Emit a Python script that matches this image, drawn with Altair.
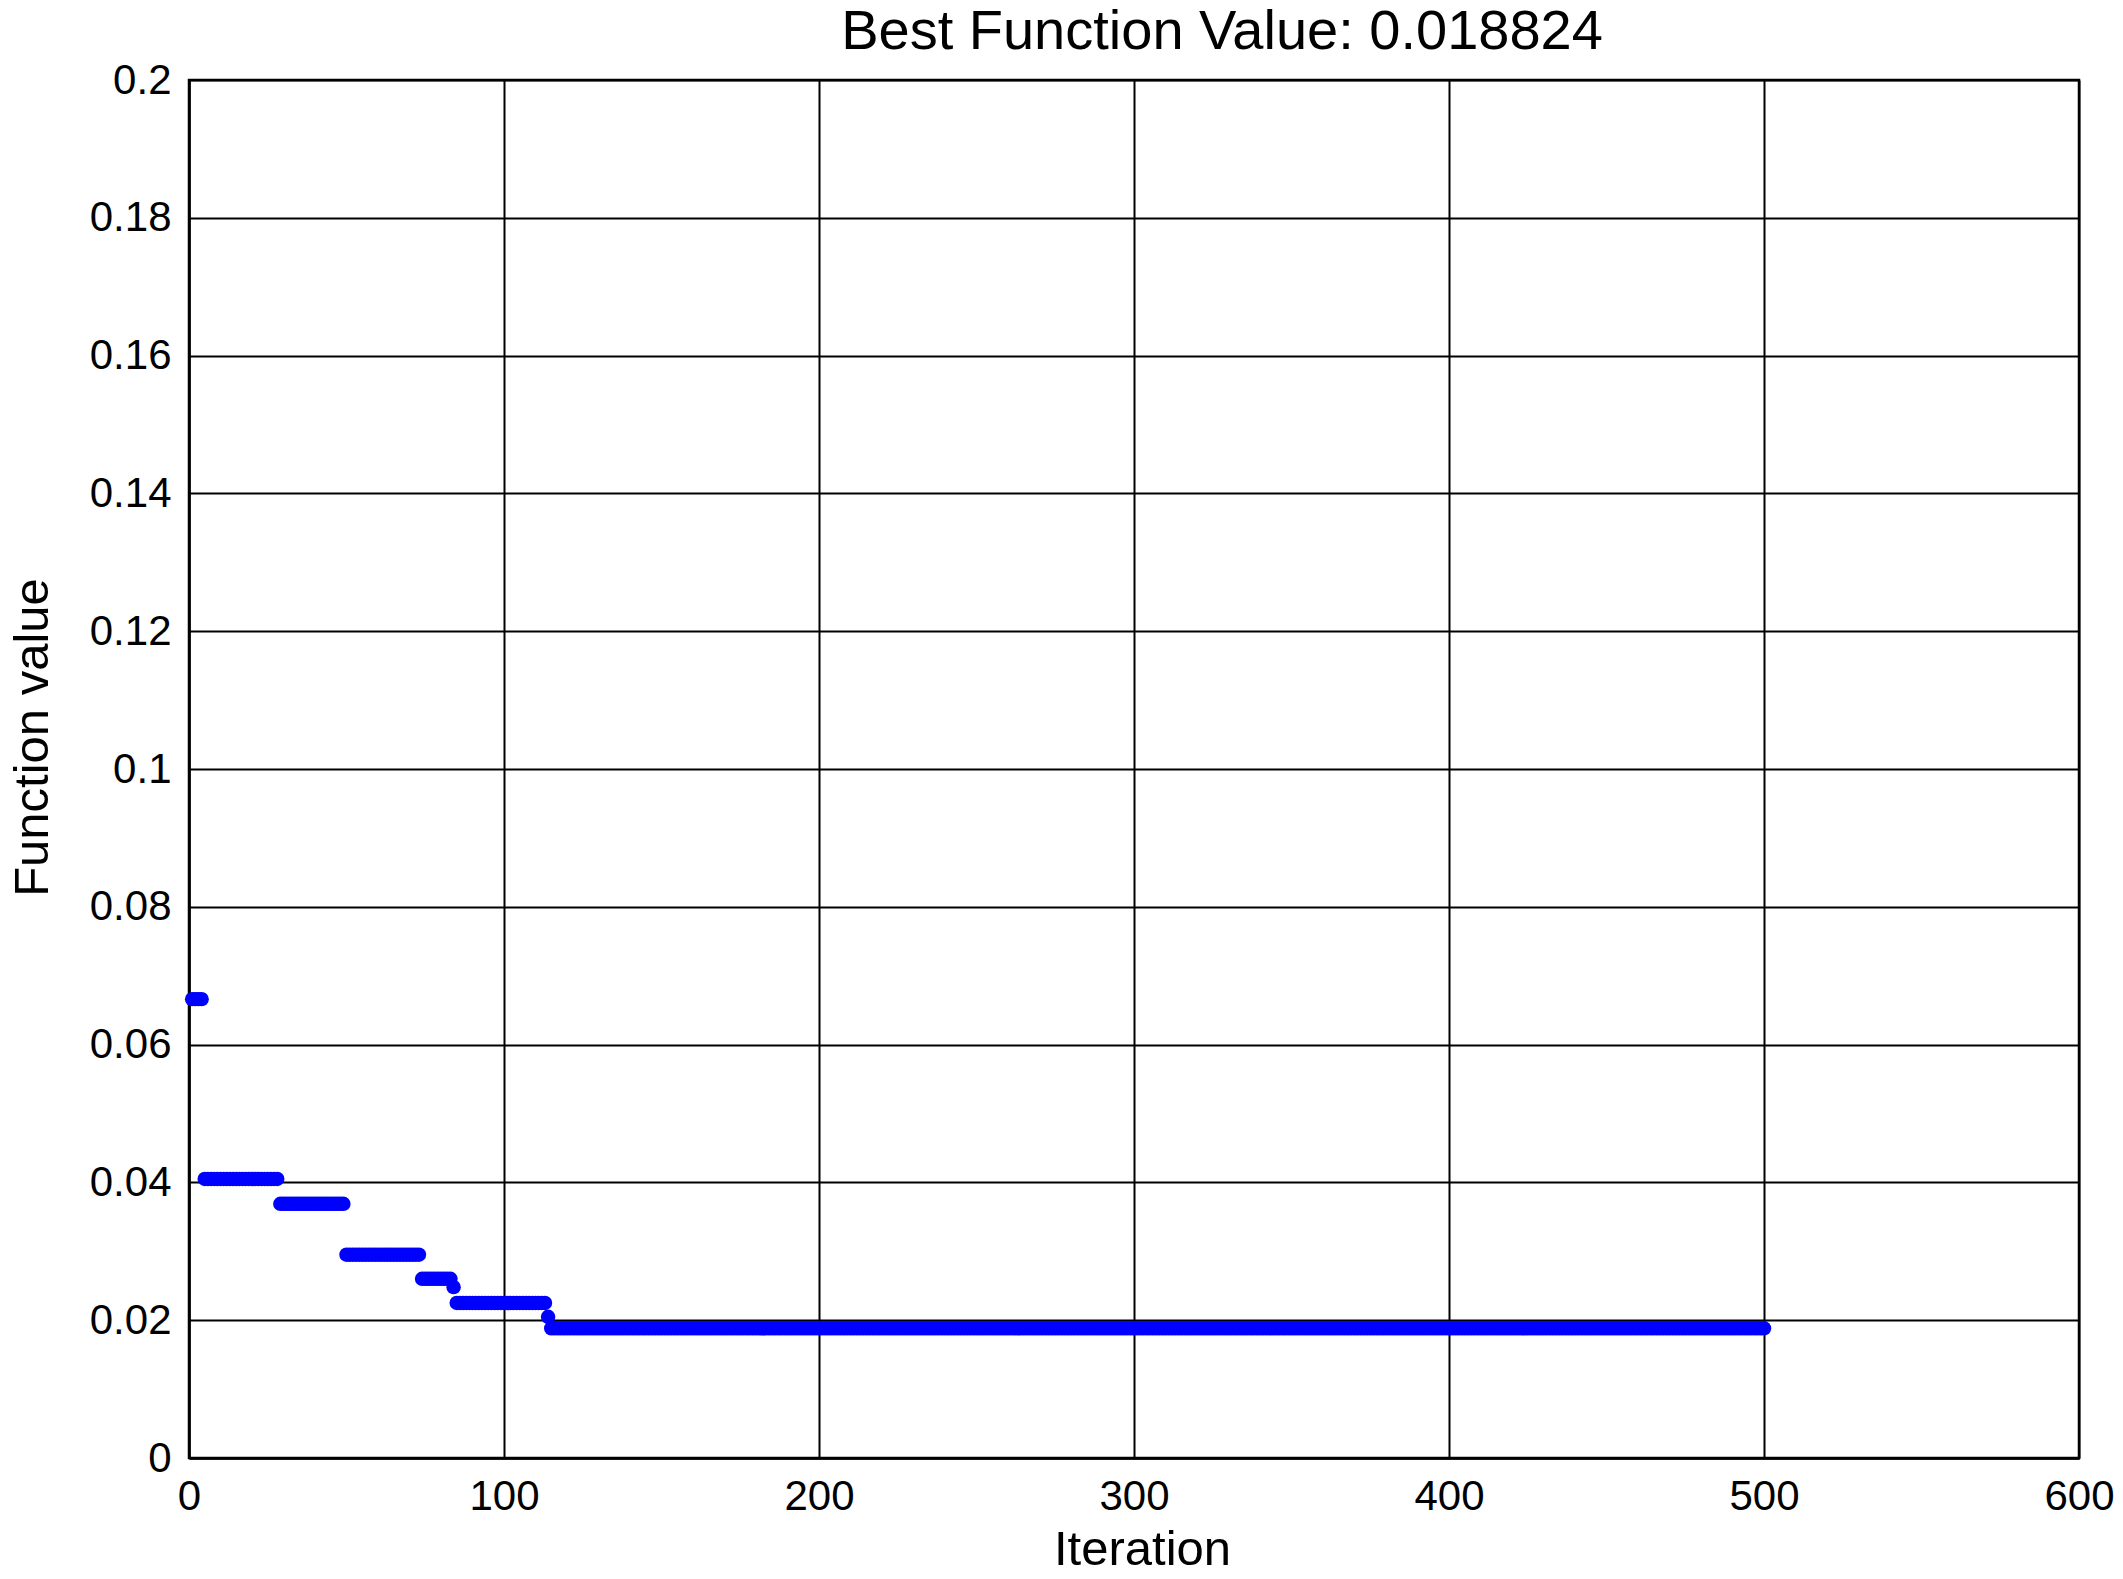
import altair as alt
import pandas as pd

# Step levels of the best-so-far curve
step_start = [1, 5, 29, 50, 74, 84, 85, 114, 115]
step_end = [4, 28, 49, 73, 83, 84, 113, 114, 500]
step_value = [0.0666, 0.0405, 0.0369, 0.0295, 0.0260, 0.0248, 0.0225, 0.0205, 0.018824]

x_ticks = [0, 100, 200, 300, 400, 500, 600]
y_ticks = [0, 0.02, 0.04, 0.06, 0.08, 0.1, 0.12, 0.14, 0.16, 0.18, 0.2]

rows = []
for s, e, v in zip(step_start, step_end, step_value):
    for it in range(s, e + 1):
        rows.append({"Iteration": it, "Value": v})
df = pd.DataFrame(rows)

FONT = "Liberation Sans"

chart = (
    alt.Chart(df)
    .mark_circle(color="#0000FF", opacity=1, size=210)
    .encode(
        x=alt.X(
            "Iteration:Q",
            scale=alt.Scale(domain=[0, 600], nice=False, zero=False),
            axis=alt.Axis(
                values=x_ticks,
                title="Iteration",
                format="d",
                titlePadding=8,
                titleX=953,
                labelFlush=False,
            ),
        ),
        y=alt.Y(
            "Value:Q",
            scale=alt.Scale(domain=[0, 0.2], nice=False),
            axis=alt.Axis(
                values=y_ticks,
                title="Function value",
                format="~g",
                titleX=-142,
                titleY=657,
                titleBaseline="alphabetic",
                titleAngle=-90,
                labelFlush=False,
            ),
        ),
    )
    .properties(
        width=1890,
        height=1378,
        title=alt.TitleParams(
            "Best Function Value: 0.018824",
            font=FONT,
            fontSize=56,
            fontWeight="normal",
            color="black",
            anchor="middle",
            dx=88,
            offset=-2,
        ),
        autosize=alt.AutoSizeParams(type="none"),
        padding={"left": 181, "top": 72, "right": 36, "bottom": 110},
    )
    .configure_view(stroke="black", strokeWidth=2.5)
    .configure_axis(
        grid=True,
        gridColor="black",
        gridWidth=2,
        gridOpacity=1,
        domainColor="black",
        domainWidth=2.5,
        ticks=False,
        labelFont=FONT,
        labelFontSize=42,
        labelColor="black",
        labelPadding=18,
        titleFont=FONT,
        titleFontSize=49,
        titleFontWeight="normal",
        titleColor="black",
    )
)

chart.save("out.html", embed_options={"renderer": "svg", "actions": False})
